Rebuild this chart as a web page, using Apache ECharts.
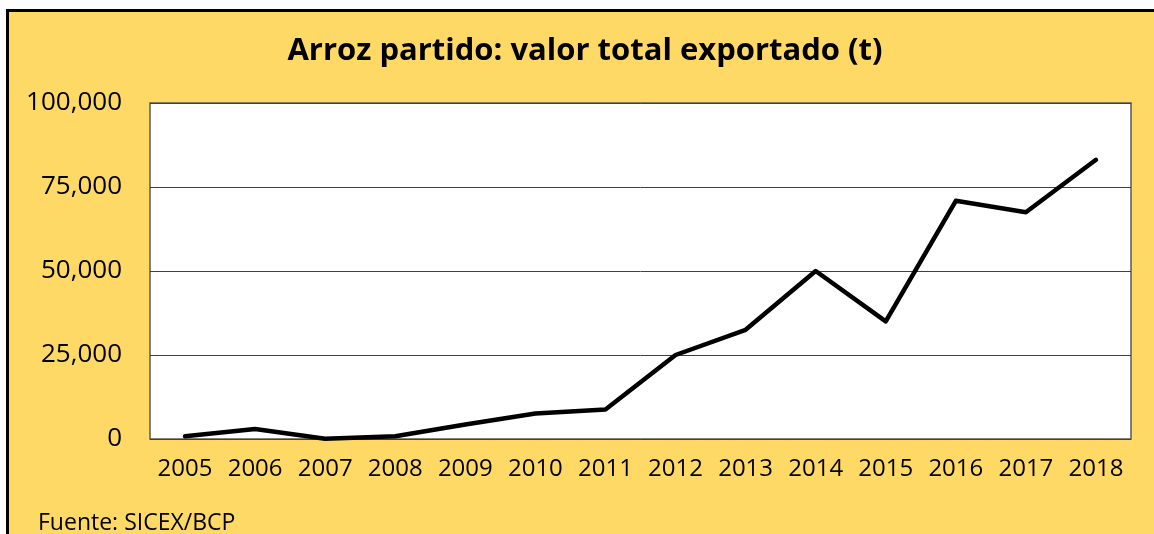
<!DOCTYPE html>
<html>
<head>
<meta charset="utf-8">
<script src="https://cdn.jsdelivr.net/npm/echarts@6/dist/echarts.min.js"></script>
<style>
  html, body { margin: 0; padding: 0; background: #fff; }
  .frame {
    position: absolute;
    left: 6px;
    top: 9px;
    width: 1200px;
    height: 600px;
    background: #ffd966;
    border: 3px solid #000;
  }
  #chart {
    position: absolute;
    left: 0;
    top: 0;
    width: 1154px;
    height: 534px;
  }
</style>
</head>
<body>
<div class="frame"></div>
<div id="chart"></div>
<script>
// datos
const years = ["2005", "2006", "2007", "2008", "2009", "2010", "2011",
  "2012", "2013", "2014", "2015", "2016", "2017", "2018"];
const exportado = [800, 3000, 100, 800, 4300, 7600, 8800,
  25000, 32500, 50000, 35000, 70900, 67500, 83100];
const yTicks = [0, 25000, 50000, 75000, 100000];

const chart = echarts.init(document.getElementById("chart"));

const option = {
  animation: false,
  title: [
    {
      text: "Arroz partido: valor total exportado (t)",
      left: 580,
      top: 31,
      textAlign: "center",
      textStyle: {
        fontFamily: "Open Sans",
        fontWeight: "bold",
        fontSize: 31,
        color: "#000"
      }
    },
    {
      text: "Fuente: SICEX/BCP",
      left: 33,
      top: 507,
      textStyle: {
        fontFamily: "Open Sans",
        fontWeight: "normal",
        fontSize: 23,
        color: "#000"
      }
    }
  ],
  grid: {
    left: 150,
    top: 103,
    width: 981,
    height: 336,
    show: true,
    backgroundColor: "#fff",
    borderColor: "#595959",
    borderWidth: 1.5
  },
  xAxis: {
    type: "category",
    data: years,
    boundaryGap: true,
    axisTick: { show: false },
    axisLine: { show: false },
    axisLabel: {
      interval: 0,
      margin: 18,
      fontFamily: "Open Sans",
      fontSize: 24,
      color: "#000"
    }
  },
  yAxis: {
    type: "value",
    min: yTicks[0],
    max: yTicks[yTicks.length - 1],
    interval: 25000,
    axisLine: { show: false },
    axisTick: { show: false },
    splitLine: {
      lineStyle: { color: "#404040", width: 1 }
    },
    axisLabel: {
      margin: 28,
      fontFamily: "Open Sans",
      fontSize: 26,
      color: "#000",
      formatter: v => v.toLocaleString("en-US")
    }
  },
  series: [
    {
      type: "line",
      data: exportado,
      symbol: "none",
      lineStyle: { color: "#000", width: 4.5, cap: "round", join: "round" }
    }
  ]
};

chart.setOption(option);
</script>
</body>
</html>
